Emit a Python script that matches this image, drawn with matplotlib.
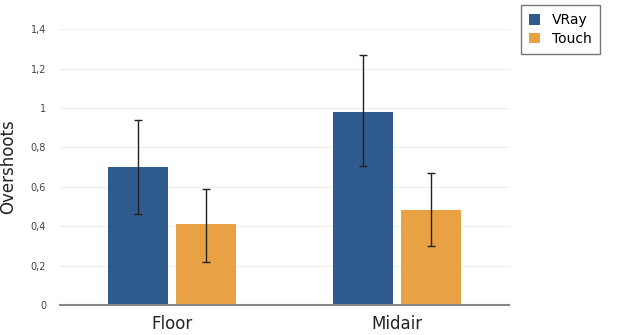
import matplotlib
matplotlib.use("Agg")
import matplotlib.pyplot as plt
import numpy as np

categories = ["Floor", "Midair"]
series_names = ["VRay", "Touch"]
vray = [0.70, 0.98]
touch = [0.41, 0.48]
vray_err_low = [0.46, 0.705]
vray_err_high = [0.94, 1.27]
touch_err_low = [0.22, 0.30]
touch_err_high = [0.59, 0.67]
yticks = [0, 0.2, 0.4, 0.6, 0.8, 1.0, 1.2, 1.4]
ytick_labels = ["0", "0,2", "0,4", "0,6", "0,8", "1", "1,2", "1,4"]

colors = ["#2F5A8E", "#E8A243"]

fig = plt.figure(figsize=(6.24, 3.35), dpi=100)
ax = fig.add_axes([0.096, 0.0896, 0.72, 0.8234])

x = np.arange(len(categories))
w = 0.267
off = 0.1525
vals = [vray, touch]
lows = [vray_err_low, touch_err_low]
highs = [vray_err_high, touch_err_high]
for i, (name, v, lo, hi) in enumerate(zip(series_names, vals, lows, highs)):
    xpos = x + (-off if i == 0 else off)
    v = np.array(v); lo = np.array(lo); hi = np.array(hi)
    ax.bar(xpos, v, width=w, color=colors[i], label=name, zorder=2)
    ax.errorbar(xpos, v, yerr=[v - lo, hi - v], fmt="none", ecolor="#222222",
                elinewidth=1.0, capsize=3, capthick=1.0, zorder=3)

ax.set_xlim(-0.5, 1.5)
ax.set_ylim(0, 1.4)
ax.set_yticks(yticks)
ax.set_yticklabels(ytick_labels, fontsize=7, color="#444444")
ax.set_xticks(x)
ax.set_xticklabels(categories, fontsize=12, color="#222222")
ax.tick_params(axis="both", length=0)
ax.tick_params(axis="y", pad=10)
ax.tick_params(axis="x", pad=7)
ax.set_ylabel("Overshoots", fontsize=12, color="#222222", labelpad=10)
ax.grid(axis="y", color="#EEEEEE", linewidth=0.8, zorder=0)
ax.set_axisbelow(True)
for s in ["top", "right", "left"]:
    ax.spines[s].set_visible(False)
ax.spines["bottom"].set_color("#888888")
ax.spines["bottom"].set_linewidth(1.5)

leg = fig.legend(loc="upper left", bbox_to_anchor=(0.835, 0.985), fontsize=10,
                 frameon=True, fancybox=False, edgecolor="#555555",
                 handlelength=0.75, handleheight=0.75, handletextpad=0.9,
                 borderpad=0.6, labelspacing=0.3, borderaxespad=0)
leg.get_frame().set_linewidth(1.0)

fig.savefig("out.png", dpi=100)
